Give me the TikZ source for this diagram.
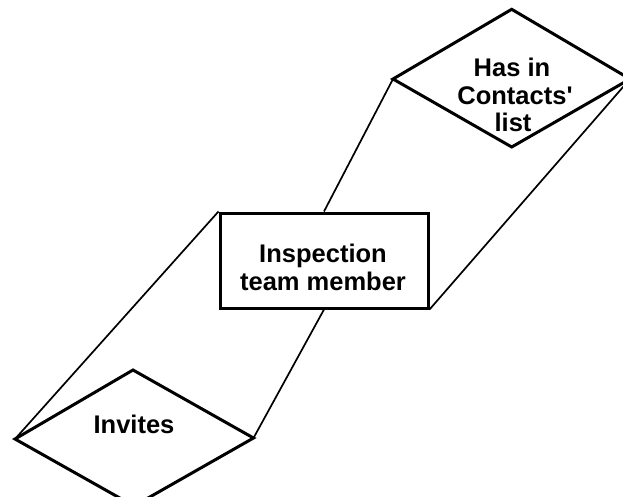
\documentclass[tikz,border=0pt]{standalone}
\usepackage{fontspec}
\newfontfamily\lblfont{Liberation Sans}
\begin{document}
\begin{tikzpicture}[x=1pt,y=-1pt,
  shapeline/.style={line width=3pt, line join=miter},
  link/.style={line width=1.7pt},
  lbl/.style={font=\lblfont\bfseries\fontsize{25.5}{28}\selectfont, inner sep=0pt, anchor=base},
  entbox/.style={draw, line width=3pt, minimum width=208pt, minimum height=95pt, inner sep=0pt}]
\useasboundingbox (0,0) rectangle (623,497);
\clip (0,0) rectangle (623,497);
% entity
\node[entbox] (ent) at (324,260.5) {};
\node[lbl] (entA) at (323,262) {Inspection};
\node[lbl] (entB) at (323,290) {team member};
% relationship "Has in Contacts' list"
\coordinate (hL) at (393,79);
\coordinate (hT) at (511.7,9.3);
\coordinate (hR) at (630,79);
\coordinate (hB) at (511.7,147);
\node[lbl] (hA) at (512,77) {Has in};
\node[lbl] (hBt) at (515,104.5) {Contacts'};
\node[lbl] (hC) at (513,132) {list};
% relationship "Invites"
\coordinate (iL) at (15,439);
\coordinate (iT) at (133,370);
\coordinate (iR) at (253.5,438);
\coordinate (iB) at (134,506);
\node[lbl] (iA) at (134,433) {Invites};
% connectors
\draw[link] (ent.north west) -- (iL);
\draw[link] (hL) -- (ent.north);
\draw[link] (ent.south) -- (iR);
\draw[link] (ent.south east) -- (hR);
% shapes
\draw[shapeline] (hL) -- (hT) -- (hR) -- (hB) -- cycle;
\draw[shapeline] (iL) -- (iT) -- (iR) -- (iB) -- cycle;
\end{tikzpicture}
\end{document}
